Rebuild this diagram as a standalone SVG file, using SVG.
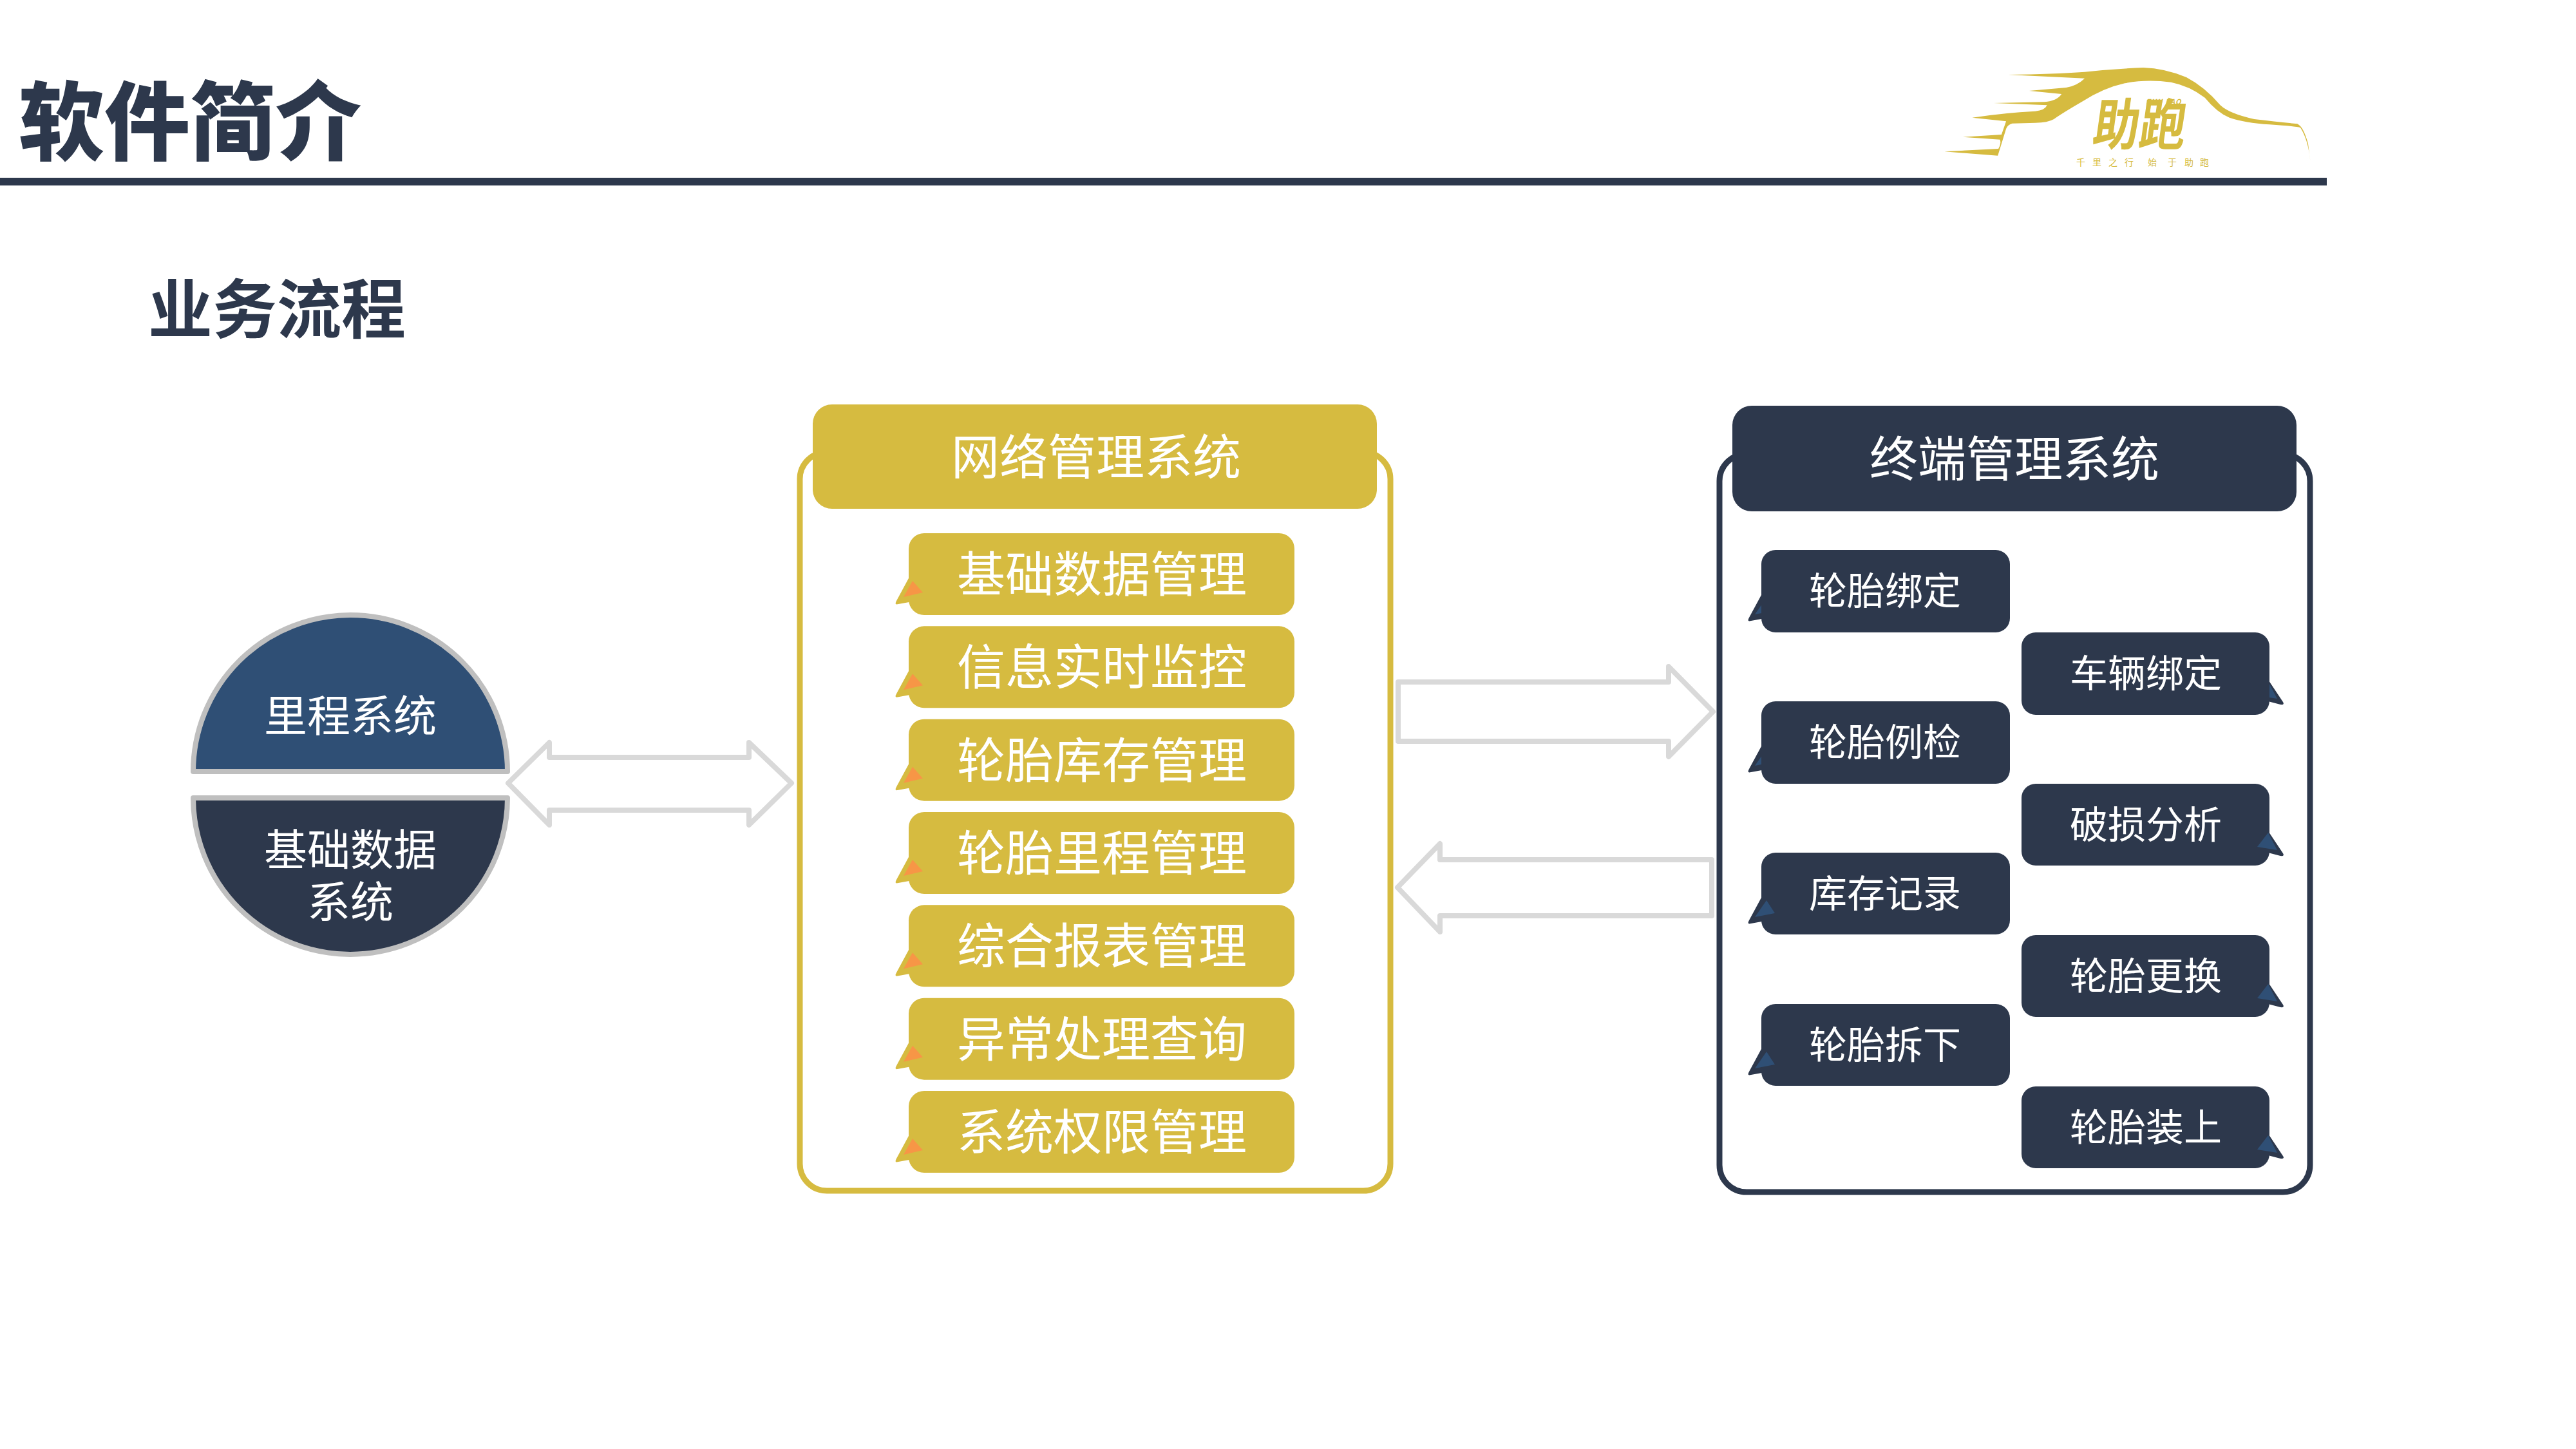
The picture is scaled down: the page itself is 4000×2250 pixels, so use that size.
<svg xmlns="http://www.w3.org/2000/svg" width="4000" height="2250" viewBox="0 0 4000 2250">
<style>
text{font-family:"Noto Sans CJK SC","Noto Sans",sans-serif;text-anchor:middle;fill:#fff}
.head{fill:#2D384C;text-anchor:start}
.t74{font-size:75px}.t58{font-size:59px}.t66{font-size:67px}
.gold{fill:#D6BB40}.dark{fill:#2D384C}.orange{fill:#F79646}.blue{fill:#2F4F75}
.arrow{fill:#fff;stroke:#D9D9D9;stroke-width:8;stroke-linejoin:round}
.half{stroke:#BFBFBF;stroke-width:8;stroke-linejoin:round}
.logo{fill:#D6BB40}
</style>
<defs>
<path id="ptrL" d="M1 68L-19 105Q-23 112 -16 110L6 106Z"/>
<path id="ptrR" d="M-1 75L21 108Q24 113 17 112L-6 106Z"/>
<path id="triOrange" d="M6 74L22 92L-8 99Z"/>
<path id="triBlueL" d="M8 74L21 94L-10 100Z"/>
<path id="triBlueR" d="M-2 76L12 103L-19 98Z"/>
</defs>
<rect width="4000" height="2250" fill="#fff"/>
<rect id="title-rule" x="0" y="276" width="3613" height="12" class="dark"/>
<text class="head" x="29" y="238" font-size="133" font-weight="900">软件简介</text>
<text class="head" x="230" y="517" font-size="100" font-weight="700">业务流程</text>

<g id="logo">
<g transform="translate(2950,60) scale(.4785,.3333)">
<path class="logo" d="M352 168Q500 165 600 155Q700 140 790 135Q860 138 930 180Q990 225 1040 310Q1070 350 1150 375Q1230 388 1290 397Q1310 410 1325 490L1332 570Q1325 470 1300 415Q1285 408 1200 400Q1120 392 1070 368Q1030 345 990 275Q940 220 880 203Q800 188 730 208Q660 230 590 295Q530 345 500 375Q480 392 440 392L365 395Q350 400 345 420L318 545L145 526L320 513Q330 490 325 470L205 458L330 447L345 385L235 368Q340 345 440 338Q470 335 478 310L305 300L470 295Q510 290 525 258L420 243L540 228Q575 220 600 185Z"/>
</g>
<text font-size="72" font-weight="700" class="logo" style="text-anchor:start" transform="translate(3247,225) skewX(-8) scale(1,1.2)">助跑</text>
<text x="3360" y="162" font-size="11" font-style="italic" font-weight="700" class="logo" letter-spacing="1">ZHU PAO</text>
<text y="257" font-size="14" class="logo" style="text-anchor:start" x="3224 3249 3274 3299 3335 3366 3392 3416">千里之行始于助跑</text>
</g>

<g id="connectors">
<path class="arrow" d="M789 1216L853 1153V1176H1163V1153L1229 1216L1163 1281V1258H853V1281Z"/>
<path class="arrow" d="M2171 1059H2591V1035L2660 1105L2591 1175V1151H2171Z"/>
<path class="arrow" d="M2170 1378L2236 1310V1335H2658V1422H2236V1447Z"/>
</g>

<g id="mileage-system">
<path class="half blue" d="M300 1198A244 243 0 0 1 788 1198Z"/>
<text class="t66" x="544" y="1136">里程系统</text>
</g>
<g id="base-data-system">
<path class="half dark" d="M300 1239H788A244 243 0 0 1 300 1239Z"/>
<text class="t66" x="544" y="1344">基础数据<tspan x="544" dy="81">系统</tspan></text>
</g>

<g id="network-system">
<rect x="1242" y="702" width="917" height="1147" rx="42" fill="#fff" stroke="#D6BB40" stroke-width="9"/>
<rect class="gold" x="1262" y="628" width="876" height="162" rx="30"/>
<text class="t74" x="1702" y="737">网络管理系统</text>
</g>
<g id="net-item-1" transform="translate(1411,828)"><use href="#ptrL" class="gold"/><rect class="gold" width="599" height="127" rx="24"/><use href="#triOrange" class="orange"/><text class="t74" x="300" y="91">基础数据管理</text></g>
<g id="net-item-2" transform="translate(1411,972.3)"><use href="#ptrL" class="gold"/><rect class="gold" width="599" height="127" rx="24"/><use href="#triOrange" class="orange"/><text class="t74" x="300" y="91">信息实时监控</text></g>
<g id="net-item-3" transform="translate(1411,1116.7)"><use href="#ptrL" class="gold"/><rect class="gold" width="599" height="127" rx="24"/><use href="#triOrange" class="orange"/><text class="t74" x="300" y="91">轮胎库存管理</text></g>
<g id="net-item-4" transform="translate(1411,1261)"><use href="#ptrL" class="gold"/><rect class="gold" width="599" height="127" rx="24"/><use href="#triOrange" class="orange"/><text class="t74" x="300" y="91">轮胎里程管理</text></g>
<g id="net-item-5" transform="translate(1411,1405.3)"><use href="#ptrL" class="gold"/><rect class="gold" width="599" height="127" rx="24"/><use href="#triOrange" class="orange"/><text class="t74" x="300" y="91">综合报表管理</text></g>
<g id="net-item-6" transform="translate(1411,1549.7)"><use href="#ptrL" class="gold"/><rect class="gold" width="599" height="127" rx="24"/><use href="#triOrange" class="orange"/><text class="t74" x="300" y="91">异常处理查询</text></g>
<g id="net-item-7" transform="translate(1411,1694)"><use href="#ptrL" class="gold"/><rect class="gold" width="599" height="127" rx="24"/><use href="#triOrange" class="orange"/><text class="t74" x="300" y="91">系统权限管理</text></g>

<g id="terminal-system">
<rect x="2670" y="705" width="917" height="1146" rx="42" fill="#fff" stroke="#2D384C" stroke-width="9"/>
<rect class="dark" x="2690" y="630" width="876" height="164" rx="30"/>
<text class="t74" x="3128" y="740">终端管理系统</text>
</g>
<g id="term-1" transform="translate(2735,854)"><use href="#ptrL" class="dark"/><use href="#triBlueL" class="blue"/><rect class="dark" width="386" height="128" rx="22"/><text class="t58" x="192" y="85">轮胎绑定</text></g>
<g id="term-2" transform="translate(3524,982)"><use href="#ptrR" class="dark"/><use href="#triBlueR" class="blue"/><rect class="dark" x="-385" width="385" height="128" rx="22"/><text class="t58" x="-192" y="85">车辆绑定</text></g>
<g id="term-3" transform="translate(2735,1089)"><use href="#ptrL" class="dark"/><use href="#triBlueL" class="blue"/><rect class="dark" width="386" height="128" rx="22"/><text class="t58" x="192" y="85">轮胎例检</text></g>
<g id="term-4" transform="translate(3524,1217)"><use href="#ptrR" class="dark"/><rect class="dark" x="-385" width="385" height="127" rx="22"/><use href="#triBlueR" class="blue"/><text class="t58" x="-192" y="85">破损分析</text></g>
<g id="term-5" transform="translate(2735,1324)"><use href="#ptrL" class="dark"/><rect class="dark" width="386" height="127" rx="22"/><use href="#triBlueL" class="blue"/><text class="t58" x="192" y="85">库存记录</text></g>
<g id="term-6" transform="translate(3524,1452)"><use href="#ptrR" class="dark"/><rect class="dark" x="-385" width="385" height="127" rx="22"/><use href="#triBlueR" class="blue"/><text class="t58" x="-192" y="85">轮胎更换</text></g>
<g id="term-7" transform="translate(2735,1559)"><use href="#ptrL" class="dark"/><rect class="dark" width="386" height="127" rx="22"/><use href="#triBlueL" class="blue"/><text class="t58" x="192" y="85">轮胎拆下</text></g>
<g id="term-8" transform="translate(3524,1687)"><use href="#ptrR" class="dark"/><rect class="dark" x="-385" width="385" height="127" rx="22"/><use href="#triBlueR" class="blue"/><text class="t58" x="-192" y="85">轮胎装上</text></g>
</svg>
